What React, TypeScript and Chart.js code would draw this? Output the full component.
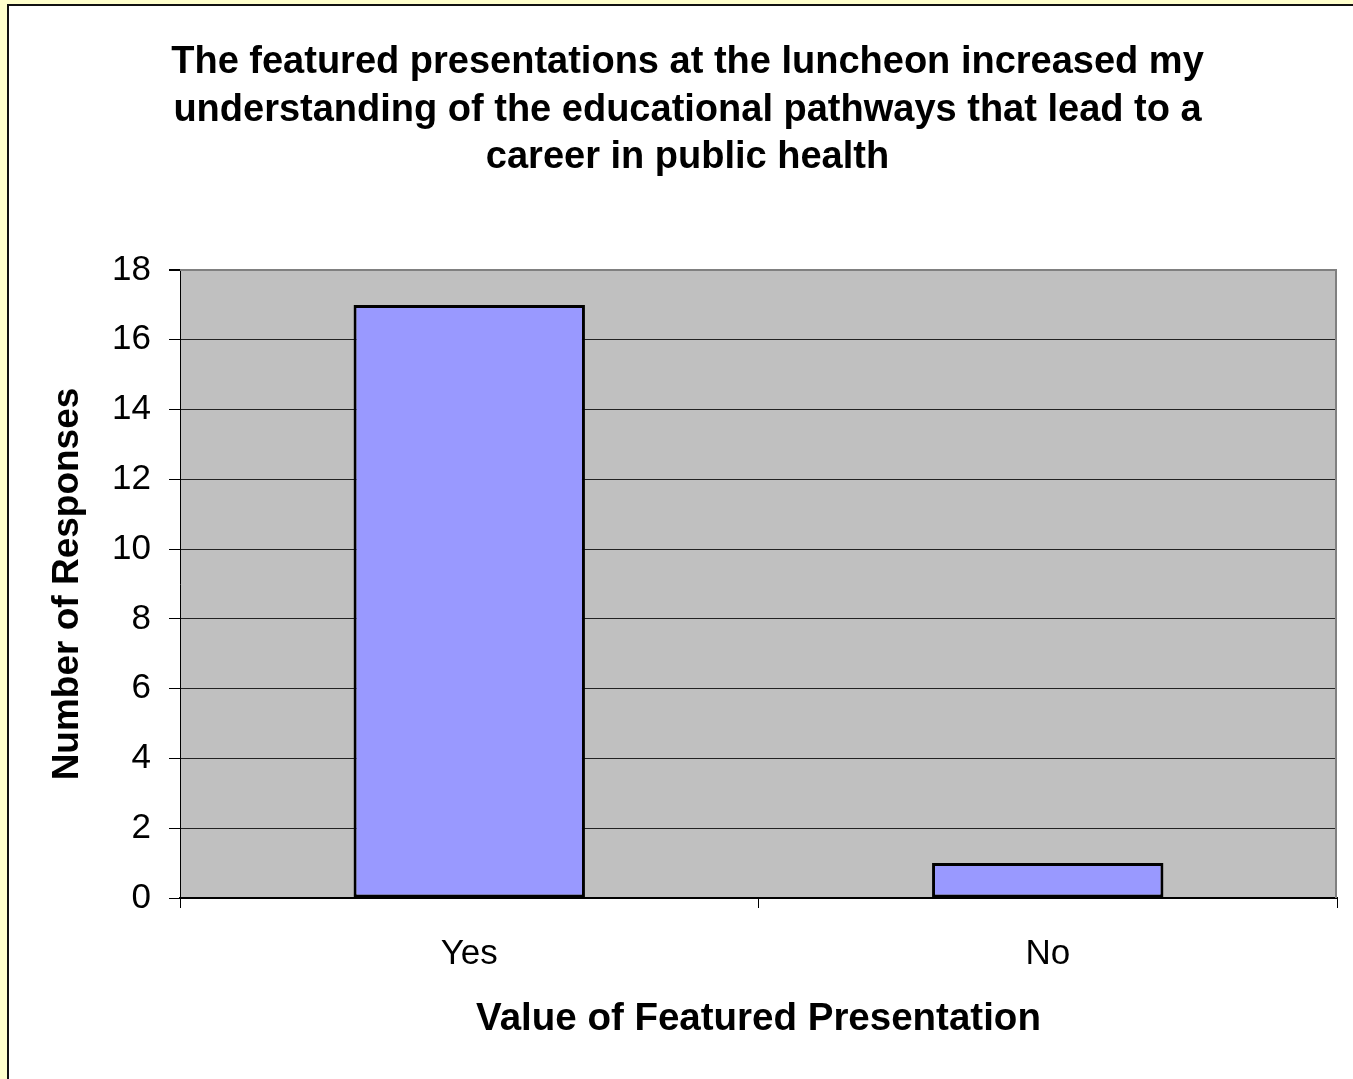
import React, { useEffect, useRef } from "react";
import { Chart, registerables } from "chart.js";

Chart.register(...registerables);

const categories: string[] = ["Yes", "No"];
const responses: number[] = [17, 1];
const yTicks: number[] = [0, 2, 4, 6, 8, 10, 12, 14, 16, 18];
const titleLines: string[] = [
  "The featured presentations at the luncheon increased my",
  "understanding of the educational pathways that lead to a",
  "career in public health",
];
const xTitle = "Value of Featured Presentation";
const yTitle = "Number of Responses";

const FONT = "'Liberation Sans', Arial, Helvetica, sans-serif";

const plotBg = {
  id: "plotBg",
  beforeDraw(chart: any) {
    const { ctx, chartArea } = chart;
    if (!chartArea) return;
    ctx.save();
    ctx.fillStyle = "#C0C0C0";
    ctx.fillRect(chartArea.left, chartArea.top, chartArea.right - chartArea.left, chartArea.bottom - chartArea.top);
    ctx.restore();
  },
  beforeDatasetsDraw(chart: any) {
    const { ctx, chartArea } = chart;
    ctx.save();
    ctx.strokeStyle = "#808080";
    ctx.lineWidth = 2;
    ctx.beginPath();
    ctx.moveTo(chartArea.left, chartArea.top);
    ctx.lineTo(chartArea.right - 1, chartArea.top);
    ctx.lineTo(chartArea.right - 1, chartArea.bottom);
    ctx.stroke();
    ctx.restore();
  },
};

export default function App() {
  const ref = useRef<HTMLCanvasElement | null>(null);

  useEffect(() => {
    if (!ref.current) return;
    const chart = new Chart(ref.current, {
      type: "bar",
      data: {
        labels: categories,
        datasets: [
          {
            data: responses,
            backgroundColor: "#9999FF",
            borderColor: "#000000",
            borderWidth: 3,
            borderSkipped: false,
            barPercentage: 0.4,
            categoryPercentage: 1,
          },
        ],
      },
      options: {
        responsive: false,
        animation: false,
        layout: { padding: { left: 38, right: 16, top: 0, bottom: 37 } },
        plugins: {
          legend: { display: false },
          tooltip: { enabled: false },
          title: {
            display: true,
            text: titleLines,
            color: "#000",
            font: { family: FONT, size: 38, weight: "bold", lineHeight: 1.25 },
            padding: { top: 39, bottom: 88.5 },
          },
        },
        scales: {
          x: {
            type: "category",
            offset: true,
            grid: {
              offset: true,
              drawOnChartArea: false,
              drawTicks: true,
              tickLength: 10,
              tickColor: "#000",
              color: "#000",
            },
            border: { display: true, color: "#000", width: 2 },
            ticks: {
              color: "#000",
              font: { family: FONT, size: 35 },
              padding: 25,
              maxRotation: 0,
            },
            title: {
              display: true,
              text: xTitle,
              color: "#000",
              font: { family: FONT, size: 38.5, weight: "bold", lineHeight: 1.2 },
              padding: { top: 0, bottom: 0 },
            },
            afterFit(scale: any) {
              scale.height = 144;
            },
          },
          y: {
            min: 0,
            max: 18,
            afterBuildTicks(scale: any) {
              scale.ticks = yTicks.map((v) => ({ value: v }));
            },
            grid: {
              color: (c: any) => (c.tick && c.tick.value === 18 ? "#808080" : "#222"),
              lineWidth: (c: any) => (c.tick && c.tick.value === 18 ? 2 : 1),
              tickColor: "#000",
              tickLength: 11,
            },
            border: { display: true, color: "#000", width: 1 },
            ticks: {
              color: "#000",
              font: { family: FONT, size: 35 },
              padding: 18,
            },
            title: {
              display: true,
              text: yTitle,
              color: "#000",
              font: { family: FONT, size: 37, weight: "bold", lineHeight: 1.2 },
              padding: { top: 8, bottom: 0 },
            },
            afterFit(scale: any) {
              scale.width = 142;
            },
          },
        },
      },
      plugins: [plotBg],
    });
    return () => chart.destroy();
  }, []);

  return (
    <div
      style={{
        position: "absolute",
        left: 0,
        top: 0,
        width: 1353,
        height: 1079,
        background: "#FFFFCC",
        overflow: "hidden",
      }}
    >
      <div
        style={{
          position: "absolute",
          left: 7,
          top: 4,
          width: 1360,
          height: 1090,
          border: "2px solid #111",
          background: "#FFFFFF",
        }}
      />
      <canvas
        ref={ref}
        width={1353}
        height={1079}
        style={{ position: "absolute", left: 0, top: 0, width: 1353, height: 1079 }}
      />
    </div>
  );
}
